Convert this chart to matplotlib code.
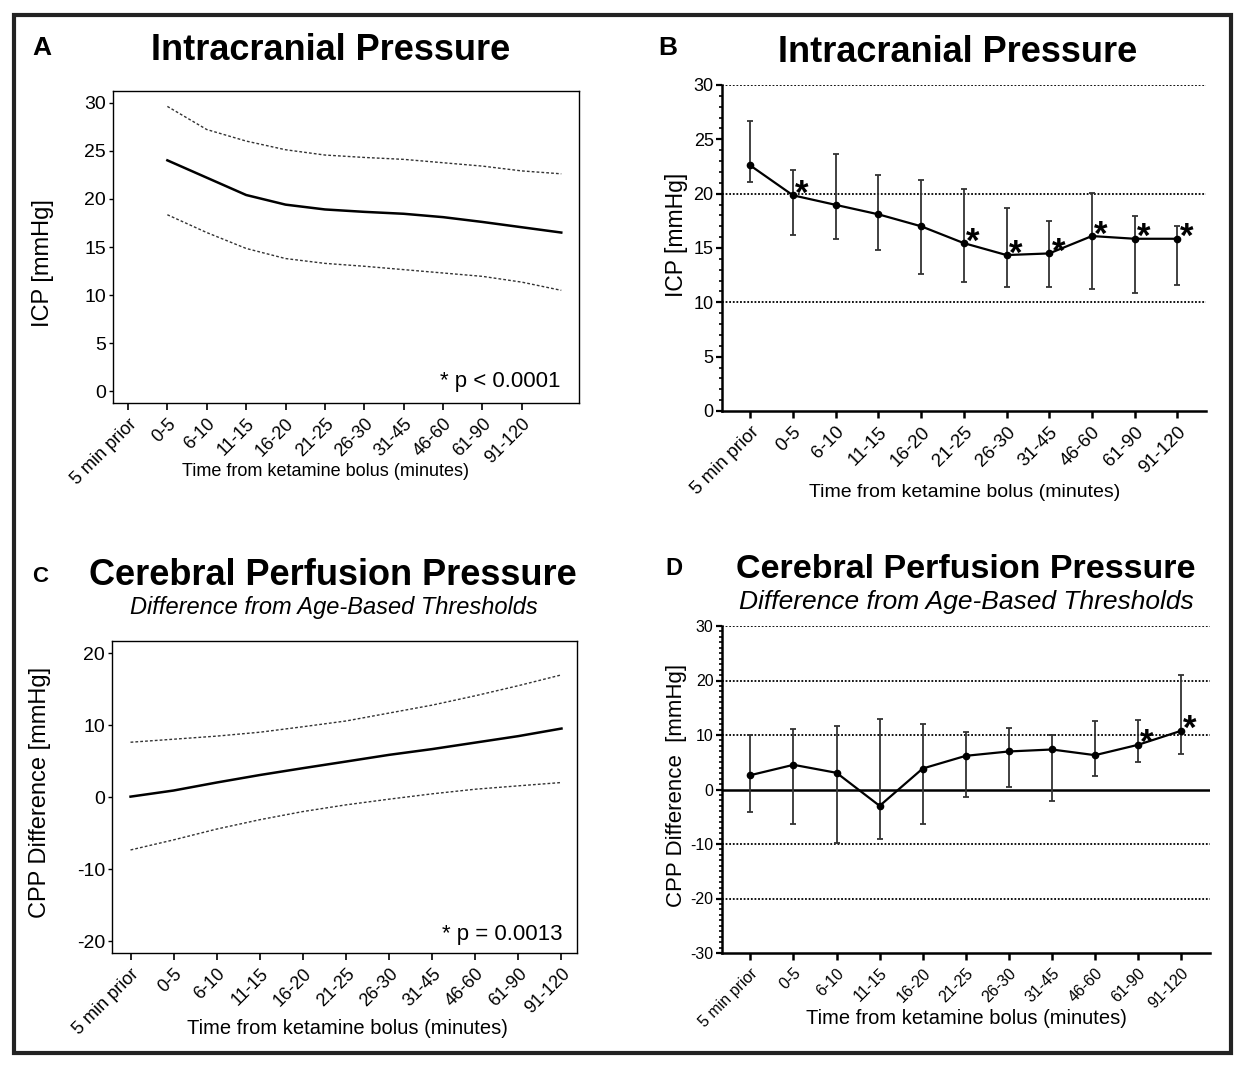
import numpy as np
import matplotlib.pyplot as plt
from matplotlib.patches import Rectangle
from matplotlib.ticker import MultipleLocator

plt.rcParams['font.family'] = ['Liberation Sans', 'DejaVu Sans']
plt.rcParams['axes.unicode_minus'] = False

W, H = 1245, 1067

times = ['5 min prior', '0-5', '6-10', '11-15', '16-20', '21-25',
         '26-30', '31-45', '46-60', '61-90', '91-120']

# A: fitted ICP curve with band (starts at 0-5)
icp_fit = [24.0, 22.2, 20.4, 19.4, 18.9, 18.65, 18.45, 18.1, 17.6, 17.05, 16.5]
icp_fit_hi = [29.6, 27.2, 26.0, 25.1, 24.55, 24.3, 24.1, 23.75, 23.4, 22.9, 22.6]
icp_fit_lo = [18.35, 16.5, 14.85, 13.8, 13.3, 13.0, 12.65, 12.3, 11.95, 11.35, 10.5]

# B: ICP per time bin
icp_mean = [22.6, 19.85, 18.97, 18.1, 17.0, 15.45, 14.35, 14.5, 16.1, 15.85, 15.85]
icp_upper = [26.7, 22.2, 23.66, 21.76, 21.3, 20.4, 18.7, 17.5, 20.1, 17.98, 17.03]
icp_lower = [21.1, 16.2, 15.87, 14.8, 12.6, 11.9, 11.4, 11.45, 11.2, 10.84, 11.6]
icp_sig = [1, 5, 6, 7, 8, 9, 10]

# C: fitted CPP difference with band
cpp_fit = [0.1, 0.95, 2.06, 3.1, 4.05, 4.97, 5.9, 6.7, 7.6, 8.5, 9.55]
cpp_fit_hi = [7.65, 8.07, 8.5, 9.04, 9.8, 10.6, 11.7, 12.8, 14.1, 15.5, 17.0]
cpp_fit_lo = [-7.3, -5.9, -4.4, -3.1, -1.97, -1.04, -0.25, 0.49, 1.13, 1.6, 2.06]

# D: CPP difference per time bin
cpp_mean = [2.63, 4.53, 3.06, -3.0, 3.85, 6.18, 6.98, 7.34, 6.3, 8.2, 10.77]
cpp_upper = [10.0, 11.1, 11.57, 12.9, 12.06, 10.5, 11.2, 9.98, 12.55, 12.67, 21.1]
cpp_lower = [-4.17, -6.25, -9.8, -9.0, -6.37, -1.4, 0.37, -2.2, 2.5, 5.0, 6.6]
cpp_sig = [9, 10]

fig = plt.figure(figsize=(W / 100, H / 100), dpi=100)


def box(l, t, r, b):
    return [l / W, 1 - b / H, (r - l) / W, (b - t) / H]


def ftext(x, y, s, **kw):
    kw.setdefault('ha', 'center')
    kw.setdefault('va', 'baseline')
    fig.text(x / W, 1 - y / H, s, **kw)


x = np.arange(len(times))
band = dict(color='#333333', lw=1.0, ls=(0, (2, 1.5)))


def fit_panel(ax, xs, mid, hi, lo):
    ax.plot(xs, mid, color='black', lw=1.8)
    ax.plot(xs, hi, **band)
    ax.plot(xs, lo, **band)
    ax.set_xticks(x)
    ax.set_xticklabels(times, rotation=45, ha='right', rotation_mode='anchor', fontsize=13)
    ax.tick_params(axis='x', length=5, width=1.2, pad=4)
    ax.tick_params(axis='y', length=3, width=1.0, pad=2, labelsize=14)
    for s in ax.spines.values():
        s.set_linewidth(1.0)


def bin_panel(ax, mean, lo, hi, sig, grid, ysize, xsize):
    for g in grid:
        ax.axhline(g, color='black', lw=1.3, ls=(0, (1, 1)), zorder=1)
    err = [np.subtract(mean, lo), np.subtract(hi, mean)]
    ax.errorbar(x, mean, yerr=err, fmt='-o', color='black', ecolor='#333333',
                elinewidth=1.3, capsize=2.4, capthick=1.3, ms=4.5, lw=1.6, zorder=3)
    for i in sig:
        ax.annotate('*', (x[i], mean[i]), xytext=(6.5, -6), textcoords='offset points',
                    ha='center', va='baseline', fontsize=25, fontweight='bold')
    ax.spines['top'].set_visible(False)
    ax.spines['right'].set_visible(False)
    ax.spines['left'].set_linewidth(1.8)
    ax.spines['bottom'].set_linewidth(1.8)
    ax.yaxis.set_minor_locator(MultipleLocator(1))
    ax.tick_params(axis='y', which='major', length=4.5, width=1.6, pad=1.5, labelsize=ysize)
    ax.tick_params(axis='y', which='minor', length=2.5, width=1.2)
    ax.tick_params(axis='x', length=5, width=1.8, pad=4)
    ax.set_xticks(x)
    ax.set_xticklabels(times, rotation=45, ha='right', rotation_mode='anchor', fontsize=xsize)
    ax.set_xlim(-0.66, 10.67)


# A
axA = fig.add_axes(box(113, 91, 579, 403))
fit_panel(axA, x + 1, icp_fit, icp_fit_hi, icp_fit_lo)
axA.set_xlim(-0.38, 11.45)
axA.set_ylim(-1.2, 31.2)
axA.set_yticks(range(0, 31, 5))
ftext(561, 387, '* p < 0.0001', ha='right', fontsize=16)

# B
axB = fig.add_axes(box(722, 85, 1206, 411))
bin_panel(axB, icp_mean, icp_lower, icp_upper, icp_sig, (10, 20, 30), 13, 13.5)
axB.set_ylim(0, 30)
axB.set_yticks(range(0, 31, 5))

# C
axC = fig.add_axes(box(112, 641, 577, 953))
fit_panel(axC, x, cpp_fit, cpp_fit_hi, cpp_fit_lo)
axC.set_xlim(-0.43, 10.36)
axC.set_ylim(-21.6, 21.7)
axC.set_yticks(range(-20, 21, 10))
ftext(563, 940, '* p = 0.0013', ha='right', fontsize=16)

# D
axD = fig.add_axes(box(722, 626, 1210, 953))
bin_panel(axD, cpp_mean, cpp_lower, cpp_upper, cpp_sig, (-20, -10, 10, 20, 30), 11.5, 11.5)
axD.axhline(0, color='black', lw=1.8, zorder=2)
axD.set_ylim(-30, 30)
axD.set_yticks(range(-30, 31, 10))

# titles and labels
ftext(331, 60, 'Intracranial Pressure', fontsize=26, fontweight='bold')
ftext(958, 62, 'Intracranial Pressure', fontsize=26, fontweight='bold')
ftext(333, 585, 'Cerebral Perfusion Pressure', fontsize=26, fontweight='bold')
ftext(334, 614, 'Difference from Age-Based Thresholds', fontsize=17, style='italic')
ftext(966, 578, 'Cerebral Perfusion Pressure', fontsize=24.5, fontweight='bold')
ftext(966, 609, 'Difference from Age-Based Thresholds', fontsize=19, style='italic')

ftext(42, 55, 'A', fontsize=19, fontweight='bold')
ftext(668, 55, 'B', fontsize=19, fontweight='bold')
ftext(40, 582, 'C', fontsize=16, fontweight='bold')
ftext(674, 575, 'D', fontsize=17, fontweight='bold')

ftext(326, 472, 'Time from ketamine bolus (minutes)', va='center', fontsize=13)
ftext(965, 492, 'Time from ketamine bolus (minutes)', va='center', fontsize=14)
ftext(347, 1028, 'Time from ketamine bolus (minutes)', va='center', fontsize=14.5)
ftext(966, 1018, 'Time from ketamine bolus (minutes)', va='center', fontsize=14.5)

ftext(43, 263, 'ICP [mmHg]', va='center', rotation=90, fontsize=17)
ftext(676, 235, 'ICP [mmHg]', va='center', rotation=90, fontsize=16.5)
ftext(40, 792, 'CPP Difference [mmHg]', va='center', rotation=90, fontsize=17)
ftext(677, 785, 'CPP Difference  [mmHg]', va='center', rotation=90, fontsize=16)

fig.patches.append(Rectangle((14 / W, 1 - 1053 / H), (1231 - 14) / W, (1053 - 15) / H,
                             transform=fig.transFigure, fill=False, lw=3, ec='#222222'))

fig.savefig('out.png', dpi=100)
